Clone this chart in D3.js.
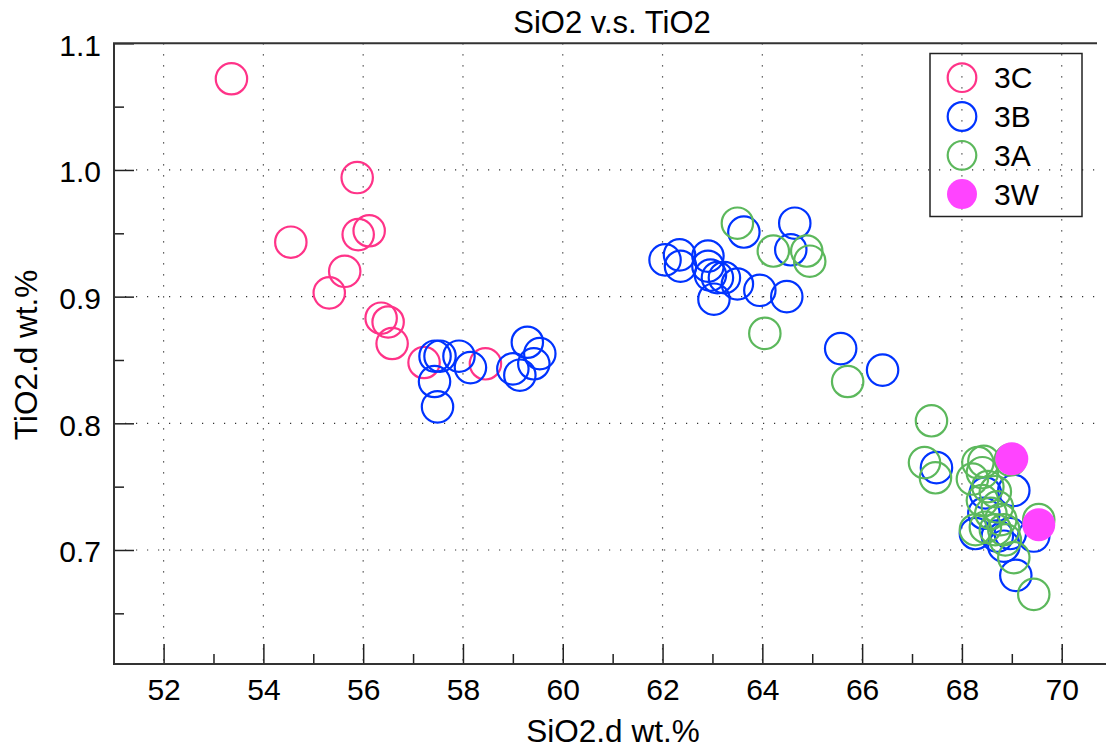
<!DOCTYPE html>
<html>
<head>
<meta charset="utf-8">
<script src="https://cdn.jsdelivr.net/npm/d3@7"></script>
<style>
  body { margin: 0; background: #fff; }
  svg text { font-family: Helvetica, "Liberation Sans", Arial, sans-serif; fill: #000; }
</style>
</head>
<body>
<script>
// SiO2 / TiO2 values per group
const sio2_3C = [53.36, 55.88, 54.55, 55.90, 56.12, 55.63, 55.32, 56.36, 56.50, 56.58, 57.22, 58.45];
const tio2_3C = [1.072, 0.994, 0.943, 0.949, 0.952, 0.920, 0.903, 0.883, 0.880, 0.863, 0.848, 0.847];

const sio2_3B = [57.44, 57.54, 57.92, 58.15, 57.43, 57.49, 59.29, 59.54, 59.42, 59.00, 59.14,
    62.05, 62.34, 62.36, 62.91, 62.91, 62.96, 63.10, 63.24, 63.50, 63.03, 63.63, 63.95, 64.49, 64.65, 64.57, 65.57, 66.41,
    67.49, 68.47, 69.04, 68.27, 68.84, 68.97, 69.08, 69.44, 68.71, 68.44];
const tio2_3B = [0.853, 0.853, 0.853, 0.844, 0.833, 0.813, 0.864, 0.855, 0.847, 0.843, 0.838,
    0.929, 0.933, 0.924, 0.932, 0.924, 0.917, 0.915, 0.915, 0.910, 0.898, 0.951, 0.905, 0.900, 0.958, 0.937, 0.859, 0.842,
    0.765, 0.745, 0.747, 0.713, 0.703, 0.713, 0.680, 0.711, 0.711, 0.729];

const sio2_3A = [63.50, 64.22, 64.89, 64.95, 64.05, 65.71, 67.39, 67.25, 67.47,
    68.32, 68.44, 68.41, 68.21, 68.52, 68.67, 68.41, 68.71, 68.27, 68.47, 68.67, 68.84, 68.87, 69.04, 69.44, 68.97, 69.54, 68.58, 68.78];
const tio2_3A = [0.958, 0.936, 0.936, 0.928, 0.871, 0.833, 0.802, 0.769, 0.757,
    0.769, 0.770, 0.761, 0.756, 0.750, 0.746, 0.739, 0.734, 0.716, 0.718, 0.716, 0.716, 0.708, 0.694, 0.665, 0.771, 0.724, 0.729, 0.724];

const sio2_3W = [69.00, 69.54];
const tio2_3W = [0.772, 0.720];

const groups = ["3C", "3B", "3A", "3W"];
const xTicks = [52, 54, 56, 58, 60, 62, 64, 66, 68, 70];
const yTicks = [0.7, 0.8, 0.9, 1.0, 1.1];

const width = 1106;
const height = 751;

const series = [
    {name: "3C", x: sio2_3C, y: tio2_3C, color: "#ff3388", filled: false},
    {name: "3B", x: sio2_3B, y: tio2_3B, color: "#0033ff", filled: false},
    {name: "3A", x: sio2_3A, y: tio2_3A, color: "#5cb85c", filled: false},
    {name: "3W", x: sio2_3W, y: tio2_3W, color: "#ff44ff", filled: true}
];

const plotLeft = 114, plotTop = 43.3, plotBottom = 664, plotRight = 1097;

const scaleX = d3.scaleLinear().domain([51, 71]).range([113.7, 1111.6]);
const scaleY = d3.scaleLinear().domain([0.61, 1.1]).range([plotBottom, plotTop]);

const svg = d3.select("body").append("svg")
    .attr("width", width)
    .attr("height", height);

// dotted grid
const grid = svg.append("g").attr("stroke", "#333").attr("stroke-width", 1.2).attr("stroke-dasharray", "1.2,9.8");
grid.selectAll(".gx").data(xTicks).enter().append("line")
    .attr("x1", d => scaleX(d)).attr("x2", d => scaleX(d))
    .attr("y1", plotTop).attr("y2", plotBottom);
grid.selectAll(".gy").data(yTicks.filter(d => d < 1.1)).enter().append("line")
    .attr("x1", plotLeft).attr("x2", plotRight)
    .attr("y1", d => scaleY(d)).attr("y2", d => scaleY(d));

// axes
const xAxis = d3.axisBottom(scaleX).tickValues(xTicks).tickSize(-20).tickPadding(15).tickFormat(d3.format("d"));
const xMinor = d3.axisBottom(scaleX).tickValues(d3.range(53, 71, 2)).tickSize(-10).tickFormat("");
const yAxis = d3.axisLeft(scaleY).tickValues(yTicks).tickSize(-20).tickPadding(13).tickFormat(d3.format(".1f"));
const yMinor = d3.axisLeft(scaleY).tickValues([0.65, 0.75, 0.85, 0.95, 1.05]).tickSize(-10).tickFormat("");

function styleAxis(g) {
    g.select(".domain").remove();
    g.selectAll("line").attr("stroke", "#222").attr("stroke-width", 1.5);
    g.selectAll("text").style("font-size", "30px");
}

svg.append("g").attr("id", "x-axis").attr("transform", `translate(0,${plotBottom})`).call(xAxis).call(styleAxis)
    .selectAll("text").attr("fill", "#000");
svg.append("g").attr("transform", `translate(0,${plotBottom})`).call(xMinor).call(styleAxis);
svg.append("g").attr("id", "y-axis").attr("transform", `translate(${plotLeft},0)`).call(yAxis).call(styleAxis)
    .selectAll("text").attr("fill", "#000").attr("dy", "0.4em");
svg.append("g").attr("transform", `translate(${plotLeft},0)`).call(yMinor).call(styleAxis);

// frame
svg.append("line").attr("x1", plotLeft).attr("x2", plotLeft).attr("y1", plotTop).attr("y2", plotBottom)
    .attr("stroke", "#333").attr("stroke-width", 2);
svg.append("line").attr("x1", plotLeft - 1).attr("x2", width).attr("y1", plotBottom).attr("y2", plotBottom)
    .attr("stroke", "#333").attr("stroke-width", 2);
svg.append("line").attr("x1", plotLeft - 1).attr("x2", plotRight).attr("y1", plotTop).attr("y2", plotTop)
    .attr("stroke", "#333").attr("stroke-width", 2);

// points
const plot = svg.append("g");
series.forEach(s => {
    const pts = s.x.map((v, i) => ({x: v, y: s.y[i]}));
    plot.append("g").selectAll("circle")
        .data(pts)
        .enter()
        .append("circle")
        .attr("cx", d => scaleX(d.x))
        .attr("cy", d => scaleY(d.y))
        .attr("r", s.filled ? 16.5 : 15.7)
        .attr("fill", s.filled ? s.color : "none")
        .attr("stroke", s.filled ? "none" : s.color)
        .attr("stroke-width", 2.2);
});

// legend
const legend = svg.append("g").attr("id", "legend");
legend.append("rect")
    .attr("x", 930).attr("y", 53.5)
    .attr("width", 152).attr("height", 163)
    .attr("fill", "none").attr("stroke", "#222").attr("stroke-width", 1.5);
series.forEach((s, i) => {
    const cy = 77.7 + i * 38.8;
    legend.append("circle")
        .attr("cx", 962).attr("cy", cy)
        .attr("r", s.filled ? 15 : 14.3)
        .attr("fill", s.filled ? s.color : "none")
        .attr("stroke", s.filled ? "none" : s.color)
        .attr("stroke-width", 2.2);
    legend.append("text")
        .attr("x", 994).attr("y", cy + 10.5)
        .style("font-size", "30px")
        .text(groups[i]);
});

// titles
svg.append("text")
    .attr("x", 612).attr("y", 33)
    .attr("text-anchor", "middle")
    .style("font-size", "31px")
    .text("SiO2 v.s. TiO2");

svg.append("text")
    .attr("x", 613).attr("y", 742)
    .attr("text-anchor", "middle")
    .style("font-size", "31.5px")
    .text("SiO2.d wt.%");

svg.append("text")
    .attr("transform", "rotate(-90)")
    .attr("x", -355).attr("y", 37)
    .attr("text-anchor", "middle")
    .style("font-size", "31.5px")
    .text("TiO2.d wt.%");
</script>
</body>
</html>
